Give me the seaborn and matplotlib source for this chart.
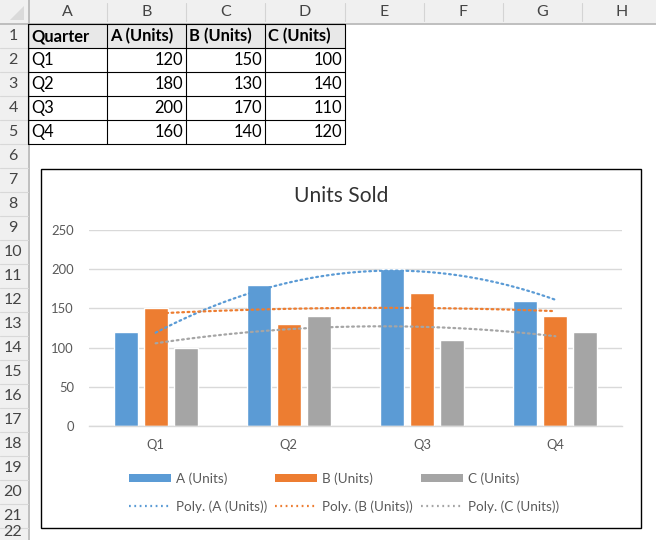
import numpy as np
import pandas as pd
import matplotlib
matplotlib.use("Agg")
import matplotlib.pyplot as plt
import seaborn as sns
from matplotlib.patches import Rectangle, Patch
from matplotlib.lines import Line2D

# ---------------- data ----------------
quarters = ["Q1", "Q2", "Q3", "Q4"]
units_a = [120, 180, 200, 160]
units_b = [150, 130, 170, 140]
units_c = [100, 140, 110, 120]
series_names = ["A (Units)", "B (Units)", "C (Units)"]
header_label = "Quarter"
chart_title = "Units Sold"
y_ticks = [0, 50, 100, 150, 200, 250]
col_letters = ["A", "B", "C", "D", "E", "F", "G", "H"]
row_numbers = list(range(1, 23))
colors = ["#5B9BD5", "#ED7D31", "#A5A5A5"]

W, H = 656, 540
def fs(px):
    return px * 72 / 100

sns.set_theme(style="white")
plt.rcParams['font.family'] = ['Lato', 'DejaVu Sans']

fig = plt.figure(figsize=(W / 100, H / 100), dpi=100)
bg = fig.add_axes([0, 0, 1, 1])
bg.set_xlim(0, W)
bg.set_ylim(H, 0)
bg.axis('off')

# ---------------- spreadsheet ----------------
col_edges = [28, 107, 186, 265, 345, 424, 503, 582, 661]
row_h = 24
hdr_fill = "#F0F0F0"
bg.add_patch(Rectangle((0, 0), W, 23, fc=hdr_fill, ec='none', zorder=1))
bg.add_patch(Rectangle((0, 0), 28, H, fc=hdr_fill, ec='none', zorder=1))
bg.plot([0, W], [23.5, 23.5], color="#B4B4B4", lw=1.2, zorder=2)
bg.plot([28.5, 28.5], [0, H], color="#B4B4B4", lw=1.2, zorder=2)
for xe in col_edges[1:-1]:
    bg.plot([xe, xe], [3, 21], color="#D4D4D4", lw=0.8, zorder=2)
for r in range(2, 24):
    bg.plot([0, 28], [r * row_h - 0.5, r * row_h - 0.5], color="#D8D8D8", lw=0.8, zorder=2)
# corner triangle
bg.add_patch(plt.Polygon([[24, 6], [24, 20], [10, 20]], closed=True, fc="#DADADA", ec='none', zorder=2))
for i, letter in enumerate(col_letters):
    cx = (col_edges[i] + col_edges[i + 1]) / 2
    bg.text(cx, 12, letter, ha='center', va='center', fontsize=fs(16), color="#444444", zorder=3)
for n in row_numbers:
    yc = n * row_h + 12
    va = 'center'
    if n == row_numbers[-1]:
        yc, va = H - 0.5, 'bottom'
    bg.text(13, yc, str(n), ha='center', va=va, fontsize=fs(16), color="#444444", zorder=3)

# table
table_cols = [header_label] + series_names
table_rows = [[q, a, b, c] for q, a, b, c in zip(quarters, units_a, units_b, units_c)]
cell_fs = fs(16.5)
bg.add_patch(Rectangle((28, 24), 345 - 28, 24, fc="#E8E8E8", ec='none', zorder=1.5))
for j, lab in enumerate(table_cols):
    bg.text(col_edges[j] + 3, 36, lab, ha='left', va='center', fontsize=cell_fs,
            fontweight='bold', color="black", zorder=3)
for i, row in enumerate(table_rows):
    yc = (i + 2) * row_h + 12
    for j, val in enumerate(row):
        if j == 0:
            bg.text(col_edges[j] + 3, yc, str(val), ha='left', va='center', fontsize=cell_fs, color="black", zorder=3)
        else:
            bg.text(col_edges[j + 1] - 3, yc, str(val), ha='right', va='center', fontsize=cell_fs, color="black", zorder=3)
for r in range(1, 7):
    bg.plot([28, 345], [r * row_h, r * row_h], color="black", lw=0.8, zorder=2.5)
for xe in col_edges[:5]:
    bg.plot([xe, xe], [24, 144], color="black", lw=0.8, zorder=2.5)

# chart area
bg.add_patch(Rectangle((41, 169), 600, 359, fc="white", ec="black", lw=1.0, zorder=4))
bg.text(341, 196, chart_title, ha='center', va='center', fontsize=fs(21), color="#333333", zorder=5)

# ---------------- chart ----------------
df = pd.DataFrame({
    "Quarter": quarters * 3,
    "Series": [s for s in series_names for _ in quarters],
    "Units": units_a + units_b + units_c,
})
ax = fig.add_axes([89 / W, 1 - 426 / H, 533 / W, 196 / H], zorder=5)
ax.patch.set_alpha(0)
sns.barplot(data=df, x="Quarter", y="Units", hue="Series", palette=colors,
            width=0.675, gap=0.2, saturation=1, legend=False, ax=ax, errorbar=None, zorder=2)

xpos = np.arange(len(quarters))
xs = np.linspace(0, len(quarters) - 1, 200)
for vals, col in zip([units_a, units_b, units_c], colors):
    coef = np.polyfit(xpos, vals, 2)
    ax.plot(xs, np.polyval(coef, xs), color=col, lw=1.6, ls=(0, (0.8, 1.6)),
            dash_capstyle='round', zorder=3)

ax.set_ylim(0, 250)
ax.set_xlim(-0.5, 3.5)
ax.set_yticks(y_ticks)
ax.set_xlabel("")
ax.set_ylabel("")
ax.grid(axis='y', color="#D9D9D9", lw=1.0)
ax.grid(axis='x', visible=False)
ax.set_axisbelow(True)
for s in ["top", "right", "left"]:
    ax.spines[s].set_visible(False)
ax.spines["bottom"].set_color("#D9D9D9")
ax.spines["bottom"].set_linewidth(1.0)
ax.tick_params(axis='both', length=0, labelcolor="#595959", labelsize=fs(13))
ax.tick_params(axis='y', pad=fs(15))
ax.tick_params(axis='x', pad=fs(13))

# legend
handles, labels = [], []
for name, col in zip(series_names, colors):
    handles.append(Patch(facecolor=col, edgecolor='none'))
    labels.append(name)
    handles.append(Line2D([], [], color=col, lw=1.6, ls=(0, (0.8, 1.6))))
    labels.append(f"Poly. ({name})")
leg = fig.legend(handles, labels, ncol=3, loc='center', bbox_to_anchor=(344 / W, 1 - 492.5 / H),
                 frameon=False, fontsize=fs(13.5), handlelength=3.1, handleheight=0.6,
                 handletextpad=0.37, columnspacing=0.6, labelspacing=1.15, labelcolor="#595959")
leg.set_zorder(6)

fig.savefig("out.png", dpi=100)
